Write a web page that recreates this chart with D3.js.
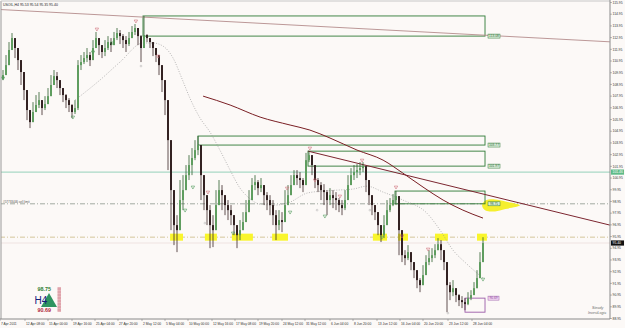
<!DOCTYPE html>
<html lang="en">
<head>
<meta charset="utf-8">
<title>USOIL H4</title>
<script src="https://d3js.org/d3.v7.min.js"></script>
<style>
  body { margin: 0; background: #fcf9f7; }
  svg { display: block; font-family: "Liberation Sans", sans-serif; }
</style>
</head>
<body>
<div id="chart"></div>
<script>
var width = 625, height = 328;

// ---- data (candles: open = previous close) ----
var firstOpen = 109.40;
var highs = [110.18,111.46,112.57,113.34,112.74,111.72,110.86,109.32,108.04,106.76,
  107.44,108.04,108.30,107.61,107.95,108.64,109.75,110.18,110.01,109.32,
  108.64,108.13,107.78,107.27,107.61,111.03,111.46,111.72,112.06,111.72,
  112.74,113.43,112.91,112.31,112.74,113.08,112.91,113.43,113.77,113.60,
  113.25,113.08,113.43,113.94,114.11,113.60,113.17,114.79,113.25,112.91,
  112.57,111.89,111.20,110.18,108.64,107.61,104.19,99.92,97.78,100.78,
  101.20,102.06,102.91,103.51,104.19,104.54,103.77,100.78,99.49,98.64,
  97.78,99.92,100.78,100.35,99.49,99.07,98.64,97.78,96.93,97.36,
  98.04,99.07,99.92,100.95,101.20,100.78,100.95,100.35,99.75,99.49,
  99.07,98.21,98.21,98.04,99.92,100.35,101.20,101.63,101.63,101.46,
  100.95,103.10,103.25,102.91,101.63,100.95,100.60,100.43,99.92,100.09,
  99.92,99.75,99.24,99.07,99.92,101.20,101.80,102.06,102.14,102.31,
  102.31,101.63,100.35,99.49,98.64,97.78,96.93,97.78,99.07,99.24,
  99.58,99.84,99.41,95.22,94.79,95.22,94.36,93.77,93.08,92.40,
  93.51,94.36,94.79,94.96,95.30,95.82,95.65,94.36,93.77,92.06,
  92.23,91.54,91.03,90.86,90.69,91.20,91.37,92.06,93.08,94.62,95.90];
var lows = [109.32,109.75,111.03,112.31,111.20,110.18,108.90,107.61,105.90,105.22,
  105.90,106.59,106.93,106.33,106.76,107.44,108.30,109.15,108.64,108.04,
  107.44,106.93,106.59,106.07,106.42,106.76,110.18,110.69,110.86,110.52,
  111.37,112.31,111.46,111.20,111.37,111.89,111.72,112.40,112.74,112.40,
  112.06,111.72,112.23,112.91,113.17,112.31,110.86,112.06,112.57,112.06,
  111.37,110.86,109.75,108.30,106.33,101.63,96.50,95.22,94.62,96.50,
  98.21,99.92,100.78,101.20,102.48,102.91,99.07,98.21,96.93,94.96,
  95.05,97.36,98.64,98.21,97.78,97.36,96.93,96.07,94.96,95.65,
  96.50,97.19,98.21,99.49,99.92,99.49,99.75,98.64,98.21,97.78,
  96.93,95.65,96.50,96.33,97.78,98.64,99.49,100.35,100.35,100.09,
  99.75,101.20,102.31,101.20,100.09,99.75,99.07,98.64,97.78,98.64,
  98.38,98.21,98.04,97.78,98.21,99.49,100.35,100.78,100.95,101.20,
  101.46,99.75,98.64,97.78,97.36,96.07,95.48,95.82,97.36,98.04,
  98.55,98.64,94.36,93.77,93.51,93.94,93.08,92.40,91.54,91.20,
  91.80,92.91,93.51,93.77,94.11,94.79,93.94,93.08,89.49,90.52,
  90.86,90.35,90.01,89.84,89.66,90.09,90.52,90.95,91.80,92.91,94.11];
var closes = [109.75,110.60,111.89,112.91,112.06,111.03,110.01,108.47,106.76,105.73,
  106.59,107.19,107.61,106.93,107.27,107.95,108.90,109.66,109.32,108.64,
  108.04,107.61,107.19,106.59,106.93,110.60,110.86,111.20,111.46,111.03,
  112.06,112.91,112.31,111.72,112.06,112.57,112.31,112.91,113.34,113.08,
  112.74,112.40,112.91,113.43,113.77,113.08,112.06,113.17,112.91,112.57,
  112.06,111.46,110.60,109.32,107.61,104.19,99.92,96.93,96.50,99.07,
  99.92,101.20,102.06,102.66,103.34,103.77,101.20,99.49,98.21,96.93,
  96.50,98.64,99.92,99.49,98.64,98.21,97.78,96.93,96.07,96.50,
  97.19,98.04,99.07,100.35,100.60,100.09,100.35,99.49,99.07,98.64,
  97.78,96.93,97.36,97.19,98.64,99.49,100.35,101.20,100.95,100.78,
  100.35,102.48,102.91,102.06,100.78,100.35,99.92,99.75,99.07,99.49,
  99.24,99.07,98.64,98.38,99.07,100.35,101.20,101.46,101.63,101.80,
  101.97,100.78,99.49,98.64,98.04,96.93,96.07,96.93,98.21,98.64,
  99.07,99.41,96.50,94.36,94.11,94.62,93.77,93.08,92.23,91.80,
  92.66,93.77,94.11,94.36,94.79,95.30,94.79,93.77,91.80,91.20,
  91.54,90.95,90.52,90.35,90.18,90.69,90.95,91.54,92.40,93.77,95.40];

// moving averages (candle index, price)
var fastIdx = [24,32.3,39,46.7,50,53.3,56.7,59.7,62.3,65.7,69,72.3,75.7,79,81.7,85.7,90.7,95.7,101.3,106.7,111.3,116.7,121.3,126.7,133.3,141.3,145.7,150,154.3,160];
var fastVal = [107.61,109.32,110.86,112.49,112.49,112.23,111.20,109.41,107.78,106.07,104.88,103.34,101.63,100.09,99.32,98.72,98.64,98.90,99.66,99.84,99.92,100.01,100.26,99.75,99.07,97.95,96.50,94.79,93.68,92.40];
var slowIdx = [66.7,75.7,85.7,95.7,102.3,109,118,126.7,133.3,140,146.7,153.3,160];
var slowVal = [107.95,107.19,106.16,105.48,105.05,104.37,103.34,102.48,101.37,100.18,99.07,98.21,97.53];

// trend lines [idx0, price0, idx1, price1]
var longTrend = [-1, 115.35, 202.3, 112.59];
var shortTrend = [101.67, 103.25, 202.3, 96.93];

// zones
var boxLeft = [46.67, 65, 101.67, 130.67];
var boxTop = [114.80, 104.54, 103.25, 99.84];
var boxBottom = [113.08, 103.77, 101.97, 98.75];
var boxRight = 160.67;
var boxLabels = ["113.08", "103.77", "101.97", "98.75"];
var lowBox = [154, 160.67, 90.69, 89.49];

var greenLevel = 101.46, sellLimit = 98.75, supportLevel = 95.90, bid = 95.40;
var hlStart = [55.7, 67.3, 76.3, 89.7, 123.3, 131.7, 144, 158];
var hlEnd = [60, 71.3, 83.3, 95, 128, 135, 148.3, 161.3];

var upIdx = [31.3, 44.3, 51.7, 68.3, 94.7, 102.3, 104, 112.3, 119.7, 131, 133, 141.7];
var upVal = [113.68, 114.37, 111.37, 99.75, 100.09, 103.51, 100.78, 99.41, 102.48, 100.18, 95.99, 94.88];
var dnIdx = [0, 23.3, 30, 36.3, 60.7, 63.3, 76.7, 95.7, 107.3, 126.3, 160];
var dnVal = [109.49, 106.16, 111.72, 112.49, 98.21, 100.18, 96.25, 98.04, 97.70, 95.90, 92.31];
var dotIdx = [46, 67.3, 104.7, 122.3, 148.3];
var dotVal = [110.52, 97.10, 98.21, 98.21, 89.41];

var priceTicks = [115.95,114.95,113.95,112.95,111.95,110.95,109.95,108.95,107.95,106.95,
  105.95,104.95,103.95,102.95,101.95,100.95,99.95,98.95,97.95,96.95,
  95.95,94.95,93.95,92.95,91.95,90.95,89.95,88.95];
var dateTickPos = [-1,7.33,15,23,30.67,38.33,46.33,54,61.67,69.67,77.33,85,93,100.67,109,116.67,124.67,132.33,140,148.33,156.33];
var dateTickLabels = ["7 Apr 2011","12 Apr 08:00","15 Apr 00:00","19 Apr 16:00","25 Apr 04:00","27 Apr 20:00",
  "2 May 12:00","5 May 04:00","10 May 00:00","12 May 16:00","17 May 08:00","19 May 20:00","24 May 12:00",
  "31 May 12:00","6 Jun 04:00","8 Jun 20:00","13 Jun 12:00","16 Jun 04:00","20 Jun 20:00","23 Jun 12:00","28 Jun 04:00"];

// ---- layout ----
var plotRight = 610, plotBottom = 319;
var x = d3.scaleLinear().domain([0, 160]).range([3, 483]);
var y = d3.scaleLinear().domain([88.95, 115.95]).range([318.5, 2.5]);

var svg = d3.select("#chart").append("svg")
    .attr("width", width)
    .attr("height", height);

svg.append("rect").attr("width", width).attr("height", height).attr("fill", "#fcf9f7");

svg.append("clipPath").attr("id", "clip")
  .append("rect").attr("x", 1).attr("y", 1).attr("width", plotRight - 1).attr("height", plotBottom - 1);

var plot = svg.append("g").attr("clip-path", "url(#clip)");

function hline(v, color, w, dash) {
  plot.append("line")
    .attr("x1", 0).attr("x2", plotRight)
    .attr("y1", y(v)).attr("y2", y(v))
    .attr("stroke", color).attr("stroke-width", w)
    .attr("stroke-dasharray", dash || null);
}
hline(greenLevel, "#a9d8c6", 1.3);
hline(sellLimit, "#7c8a7c", 0.7, "5,2,1,2");
hline(supportLevel, "#c4b274", 0.7, "5,2,1,2");
hline(bid, "#e6d3d3", 0.6);

// yellow highlights on the support line
plot.append("g").selectAll("rect")
  .data(hlStart)
  .enter().append("rect")
    .attr("x", function(d) { return x(d); })
    .attr("width", function(d, i) { return x(hlEnd[i]) - x(d); })
    .attr("y", y(supportLevel + 0.3))
    .attr("height", y(supportLevel - 0.3) - y(supportLevel + 0.3))
    .attr("fill", "#f9f52c");

// yellow blob at the 98.75 label
var blob = [[159.7,98.6],[161,99.05],[164,99.12],[167.5,98.95],[172.3,98.62],[167.5,98.3],[164,98.1],[161,98.15]];
plot.append("path")
  .attr("d", d3.line().x(function(d) { return x(d[0]); }).y(function(d) { return y(d[1]); })
    .curve(d3.curveCardinalClosed)(blob))
  .attr("fill", "#f5ef2e");

// zones
plot.append("g").selectAll("rect")
  .data(boxLeft)
  .enter().append("rect")
    .attr("x", function(d) { return x(d); })
    .attr("width", function(d) { return x(boxRight) - x(d); })
    .attr("y", function(d, i) { return y(boxTop[i]); })
    .attr("height", function(d, i) { return y(boxBottom[i]) - y(boxTop[i]); })
    .attr("fill", "none")
    .attr("stroke", "#2f7a36")
    .attr("stroke-width", 0.9);

plot.append("rect")
  .attr("x", x(lowBox[0])).attr("width", x(lowBox[1]) - x(lowBox[0]))
  .attr("y", y(lowBox[2])).attr("height", y(lowBox[3]) - y(lowBox[2]))
  .attr("fill", "none").attr("stroke", "#9b5ba8").attr("stroke-width", 0.9);

// moving averages
var ln = d3.line().x(function(d) { return x(d[0]); }).y(function(d) { return y(d[1]); }).curve(d3.curveMonotoneX);
plot.append("path")
  .attr("d", ln(fastIdx.map(function(d, i) { return [d, fastVal[i]]; })))
  .attr("fill", "none").attr("stroke", "#9a9a9a").attr("stroke-width", 0.7)
  .attr("stroke-dasharray", "1,1.5");
plot.append("path")
  .attr("d", ln(slowIdx.map(function(d, i) { return [d, slowVal[i]]; })))
  .attr("fill", "none").attr("stroke", "#7a1f24").attr("stroke-width", 1);

// trend lines
plot.append("line")
  .attr("x1", x(longTrend[0])).attr("y1", y(longTrend[1]))
  .attr("x2", x(longTrend[2])).attr("y2", y(longTrend[3]))
  .attr("stroke", "#b48c8c").attr("stroke-width", 0.9);
plot.append("line")
  .attr("x1", x(shortTrend[0])).attr("y1", y(shortTrend[1]))
  .attr("x2", x(shortTrend[2])).attr("y2", y(shortTrend[3]))
  .attr("stroke", "#7c2630").attr("stroke-width", 1);

// candles
var candles = closes.map(function(c, i) {
  var o = i ? closes[i - 1] : firstOpen;
  return { i: i, o: o, c: c, h: Math.max(highs[i], o, c), l: Math.min(lows[i], o, c) };
});
var cg = plot.append("g");
cg.selectAll("line")
  .data(candles)
  .enter().append("line")
    .attr("x1", function(d) { return x(d.i); })
    .attr("x2", function(d) { return x(d.i); })
    .attr("y1", function(d) { return y(d.h); })
    .attr("y2", function(d) { return y(d.l); })
    .attr("stroke", function(d) { return d.c >= d.o ? "#2f5f2f" : "#3a2626"; })
    .attr("stroke-width", 0.8);
cg.selectAll("rect")
  .data(candles)
  .enter().append("rect")
    .attr("x", function(d) { return x(d.i) - 1; })
    .attr("width", 2)
    .attr("y", function(d) { return y(Math.max(d.o, d.c)); })
    .attr("height", function(d) { return Math.max(0.8, Math.abs(y(d.o) - y(d.c))); })
    .attr("fill", function(d) { return d.c >= d.o ? "#5f9d5f" : "#332222"; });

// fractal markers
var tri = d3.symbol().type(d3.symbolTriangle).size(5);
plot.append("g").selectAll("path")
  .data(upIdx)
  .enter().append("path")
    .attr("d", tri)
    .attr("transform", function(d, i) { return "translate(" + x(d) + "," + y(upVal[i]) + ") rotate(180)"; })
    .attr("fill", "none").attr("stroke", "#d0707a").attr("stroke-width", 0.6);
plot.append("g").selectAll("path")
  .data(dnIdx)
  .enter().append("path")
    .attr("d", tri)
    .attr("transform", function(d, i) { return "translate(" + x(d) + "," + y(dnVal[i]) + ") rotate(180)"; })
    .attr("fill", "none").attr("stroke", "#4f9a5a").attr("stroke-width", 0.6);
plot.append("g").selectAll("circle")
  .data(dotIdx)
  .enter().append("circle")
    .attr("cx", function(d) { return x(d); })
    .attr("cy", function(d, i) { return y(dotVal[i]); })
    .attr("r", 0.9)
    .attr("fill", "none").attr("stroke", "#aaa").attr("stroke-width", 0.5);

// zone labels
var lg = plot.append("g");
boxLabels.forEach(function(t, i) {
  var yy = y(boxBottom[i]);
  lg.append("rect").attr("x", x(boxRight) + 3).attr("y", yy - 2)
    .attr("width", 12).attr("height", 4)
    .attr("fill", "#dcefdc").attr("stroke", "#2f7a36").attr("stroke-width", 0.5);
  lg.append("text").attr("x", x(boxRight) + 9).attr("y", yy + 1.2)
    .attr("text-anchor", "middle").attr("font-size", 3.3).attr("fill", "#2f6a30").text(t);
});
lg.append("rect").attr("x", x(boxRight) + 3).attr("y", y(lowBox[2]) - 2)
  .attr("width", 11).attr("height", 4)
  .attr("fill", "#f3d9f3").attr("stroke", "#9b5ba8").attr("stroke-width", 0.5);
lg.append("text").attr("x", x(boxRight) + 8.5).attr("y", y(lowBox[2]) + 1.2)
  .attr("text-anchor", "middle").attr("font-size", 3.3).attr("fill", "#8a3f98").text("90.69");

plot.append("text")
  .attr("x", 3).attr("y", y(sellLimit) - 0.8)
  .attr("font-size", 3).attr("fill", "#555")
  .text("#57733446 sell limit");

// ---- frame and axes ----
svg.append("line").attr("x1", 1).attr("x2", 1).attr("y1", 1).attr("y2", plotBottom).attr("stroke", "#9a9a9a");
svg.append("line").attr("x1", 1).attr("x2", plotRight).attr("y1", 1).attr("y2", 1).attr("stroke", "#c8c8c8");
svg.append("line").attr("x1", plotRight).attr("x2", plotRight).attr("y1", 0).attr("y2", plotBottom).attr("stroke", "#8a8a8a");
svg.append("line").attr("x1", 0).attr("x2", plotRight).attr("y1", plotBottom).attr("y2", plotBottom).attr("stroke", "#8a8a8a");

var ya = svg.append("g").attr("font-size", 3.4).attr("fill", "#333");
priceTicks.forEach(function(v) {
  ya.append("line").attr("x1", plotRight).attr("x2", plotRight + 2)
    .attr("y1", y(v)).attr("y2", y(v)).attr("stroke", "#777").attr("stroke-width", 0.5);
  ya.append("text").attr("x", plotRight + 2.5).attr("y", y(v) + 1.2).text(v.toFixed(2));
});

function priceTag(v, bg, label) {
  ya.append("rect").attr("x", plotRight + 1).attr("y", y(v) - 2.6)
    .attr("width", 13).attr("height", 5.2).attr("fill", bg);
  ya.append("text").attr("x", plotRight + 2.5).attr("y", y(v) + 1.2)
    .attr("fill", "#fff").text(label);
}
priceTag(greenLevel, "#5fbb88", greenLevel.toFixed(2));
priceTag(bid, "#111", bid.toFixed(2));

var xa = svg.append("g").attr("font-size", 3.3).attr("fill", "#333");
dateTickPos.forEach(function(p, i) {
  xa.append("line").attr("x1", x(p)).attr("x2", x(p))
    .attr("y1", plotBottom).attr("y2", plotBottom + 2).attr("stroke", "#777").attr("stroke-width", 0.5);
  xa.append("text").attr("x", x(p) + 1).attr("y", 325.3).text(dateTickLabels[i]);
});

svg.append("text").attr("x", 3).attr("y", 6.2)
  .attr("font-size", 3.5).attr("fill", "#222")
  .text("USOIL,H4  95.53 95.54 95.35 95.40");

// ---- H4 range widget ----
var w = svg.append("g");
w.append("path").attr("d", "M49,293 L57,307 L41,307 Z").attr("fill", "#2e9460");
w.append("text").attr("x", 34.5).attr("y", 304).attr("font-size", 10).attr("fill", "#14207a").text("H4");
w.append("text").attr("x", 37.5).attr("y", 291).attr("font-size", 5.4).attr("font-weight", "bold")
  .attr("fill", "#2e7d32").text("98.75");
w.append("text").attr("x", 37.5).attr("y", 311.5).attr("font-size", 5.4).attr("font-weight", "bold")
  .attr("fill", "#b0283a").text("90.69");
w.append("rect").attr("x", 57.5).attr("y", 287).attr("width", 3.5).attr("height", 25)
  .attr("fill", "#e6b4ba");
d3.range(8).forEach(function(k) {
  w.append("line").attr("x1", 57.5).attr("x2", 61).attr("y1", 289 + k * 3).attr("y2", 289 + k * 3)
    .attr("stroke", "#c9707c").attr("stroke-width", 0.5);
});

// watermark
var wm = svg.append("g").attr("fill", "#6a6a6a").attr("font-style", "italic").attr("font-size", 3.6);
wm.append("text").attr("x", 592).attr("y", 309).text("Steady");
wm.append("text").attr("x", 588).attr("y", 313.5).text("InvestLogic");
</script>
</body>
</html>
